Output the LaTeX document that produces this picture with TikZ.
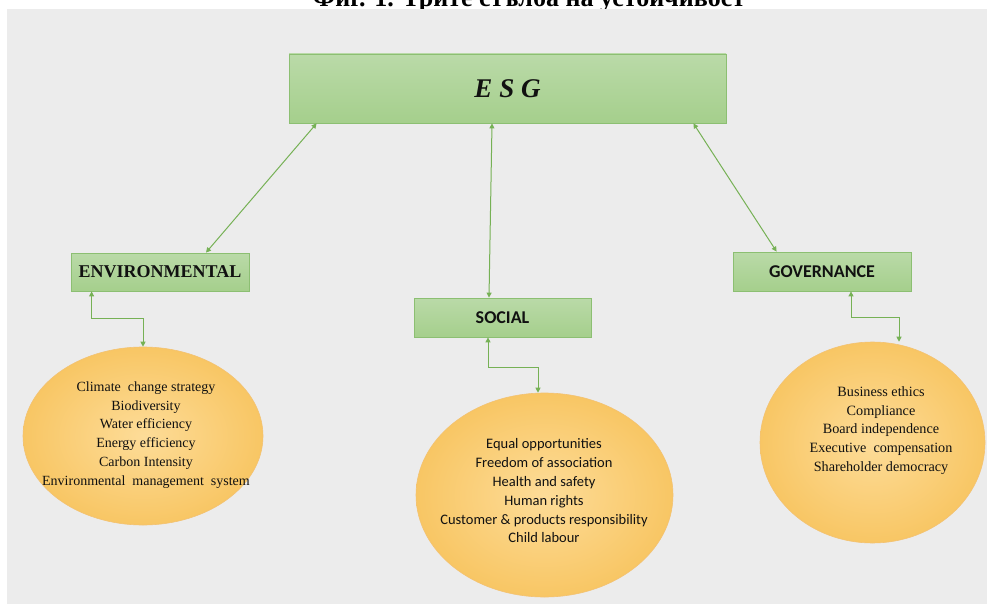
\documentclass[tikz,border=0pt]{standalone}
\usepackage{fontspec}
\setmainfont{Liberation Serif}
\newfontfamily\calfont{Carlito}
\usetikzlibrary{arrows.meta,shapes.geometric}
\definecolor{bg}{HTML}{ECECEC}
\definecolor{gtop}{HTML}{BADAA8}
\definecolor{gbot}{HTML}{A5CF8C}
\definecolor{gborder}{HTML}{8CBF72}
\definecolor{agreen}{HTML}{76B155}
\definecolor{oin}{HTML}{FDDC98}
\definecolor{oout}{HTML}{F8C664}
\definecolor{oborder}{HTML}{F3C272}
\definecolor{txt}{HTML}{111111}
\begin{document}
\begin{tikzpicture}[x=1pt,y=-1pt,
  gbox/.style={draw=gborder, line width=0.8pt, top color=gtop, bottom color=gbot, inner sep=0pt, text=txt},
  oval/.style={ellipse, draw=oborder, line width=0.6pt, inner color=oin, outer color=oout, inner sep=0pt},
  conn/.style={draw=agreen, line width=1pt, {Triangle[length=5pt,width=5pt]}-{Triangle[length=5pt,width=5pt]}},
  itemtext/.style={align=center, text=txt, inner sep=0pt}]
\useasboundingbox (0,0) rectangle (987,604);
\node[anchor=base, inner sep=0pt, font=\fontsize{26}{28}\selectfont\bfseries] (title) at (529,7) {Фиг. 1. Трите стълба на устойчивост};
\fill[bg] (7,9) rectangle (987,604);
% boxes
\node[gbox, minimum width=437pt, minimum height=69pt] (esg) at (507.5,88.5) {\fontsize{27}{30}\selectfont\bfseries\itshape E S G};
\node[gbox, minimum width=178pt, minimum height=38pt] (envb) at (160,272) {\fontsize{18}{20}\selectfont\bfseries ENVIRONMENTAL};
\node[gbox, minimum width=177pt, minimum height=39pt] (socb) at (502.5,317.5) {\calfont\fontsize{18}{20}\selectfont\bfseries SOCIAL\hspace{12pt}};
\node[gbox, minimum width=178pt, minimum height=39pt] (govb) at (822,271.5) {\calfont\fontsize{18}{20}\selectfont\bfseries GOVERNANCE\hspace{14pt}};
% ovals
\node[oval, minimum width=240pt, minimum height=178pt] (envl) at (143,436) {};
\node[oval, minimum width=257pt, minimum height=204pt] (socl) at (544.5,495) {};
\node[oval, minimum width=225pt, minimum height=201pt] (govl) at (872.5,442.5) {};
% oval texts
\node[itemtext, font=\fontsize{14}{18.8}\selectfont] (envt) at (146,435) {Climate\ \ change strategy\\Biodiversity\\Water efficiency\\Energy efficiency\\Carbon Intensity\\Environmental\ \ management\ \ system};
\node[itemtext, font=\calfont\fontsize{14.5}{18.8}\selectfont] (soct) at (544,491) {Equal opportunities\\Freedom of association\\Health and safety\\Human rights\\Customer \& products responsibility\\Child labour};
\node[itemtext, font=\fontsize{14.2}{18.8}\selectfont] (govt) at (881,430.5) {Business ethics\\Compliance\\Board independence\\Executive\ \ compensation\\Shareholder democracy};
% connectors
\draw[conn] ([xshift=28pt]esg.south west) -- ([xshift=46pt]envb.north);
\draw[conn] ([xshift=-15.5pt]esg.south) -- ([xshift=-13.5pt]socb.north);
\draw[conn] ([xshift=-33pt]esg.south east) -- ([xshift=44pt]govb.north west);
\draw[conn] ([xshift=21pt]envb.south west) -- ++(0,27) -| (envl.north);
\draw[conn] ([xshift=-14.5pt]socb.south) -- ++(0,30) -| ([xshift=-6.5pt]socl.north);
\draw[conn] ([xshift=29pt]govb.south) -- ++(0,26) -| ([xshift=26.5pt]govl.north);
\end{tikzpicture}
\end{document}
